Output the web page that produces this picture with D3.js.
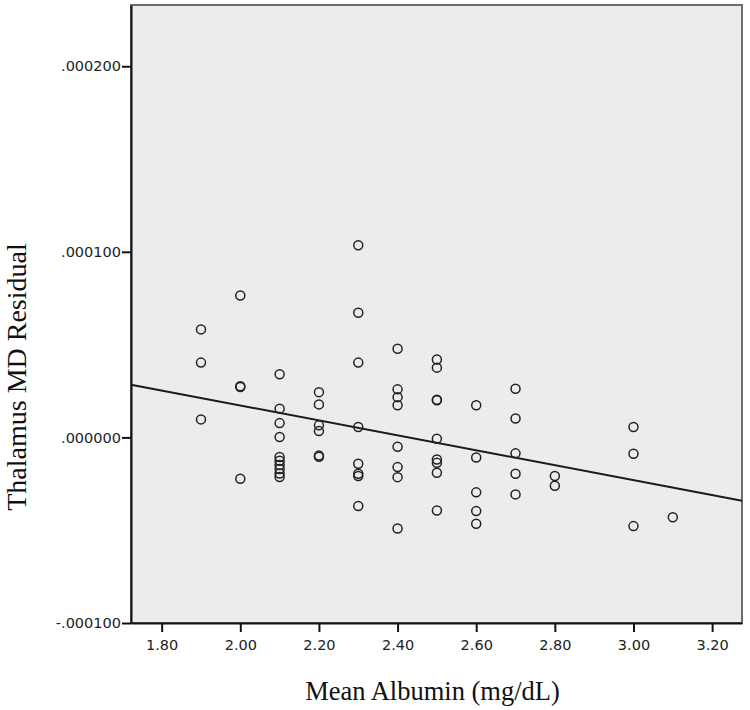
<!DOCTYPE html>
<html>
<head>
<meta charset="utf-8">
<script src="https://cdn.jsdelivr.net/npm/d3@7"></script>
<style>
  body { margin: 0; background: #fff; }
</style>
</head>
<body>
<div id="chart"></div>
<script>
// values; residuals in units of 1e-6
const albumin = [
  1.9, 1.9, 1.9,
  2.0, 2.0, 2.0, 2.0,
  2.1, 2.1, 2.1, 2.1, 2.1, 2.1, 2.1, 2.1, 2.1, 2.1,
  2.2, 2.2, 2.2, 2.2, 2.2, 2.2,
  2.3, 2.3, 2.3, 2.3, 2.3, 2.3, 2.3, 2.3,
  2.4, 2.4, 2.4, 2.4, 2.4, 2.4, 2.4, 2.4,
  2.5, 2.5, 2.5, 2.5, 2.5, 2.5, 2.5, 2.5, 2.5,
  2.6, 2.6, 2.6, 2.6, 2.6,
  2.7, 2.7, 2.7, 2.7, 2.7,
  2.8, 2.8,
  3.0, 3.0, 3.0,
  3.1
];
const residual = [
  58.2, 40.3, 9.7,
  76.5, 27.6, 27.2, -22.3,
  34.0, 15.5, 7.7, 0.2, -10.6, -12.6, -14.8, -17.0, -19.4, -21.3,
  24.4, 17.8, 6.5, 3.4, -9.8, -10.4,
  103.5, 67.2, 40.3, 5.6, -14.2, -19.6, -20.8, -37.0,
  47.8, 25.9, 21.7, 17.3, -5.0, -16.0, -21.4, -49.1,
  42.0, 37.6, 20.3, 20.0, -0.7, -11.9, -13.7, -19.0, -39.4,
  17.3, -10.8, -29.6, -39.7, -46.5,
  26.2, 10.2, -8.6, -19.6, -30.7,
  -20.8, -26.0,
  5.6, -8.8, -47.8,
  -43.0
];
const xTicks = [1.8, 2.0, 2.2, 2.4, 2.6, 2.8, 3.0, 3.2];
const yTicks = [-100, 0, 100, 200];
const fitCoef = [97.6, -40.2]; // intercept, slope of the drawn fit line

const width = 750, height = 710;
const margin = { left: 131, right: 8, top: 5, bottom: 87 };

const svg = d3.select("#chart").append("svg")
  .attr("width", width)
  .attr("height", height);

const x = d3.scaleLinear()
  .domain([1.722, 3.276])
  .range([margin.left, width - margin.right]);

const y = d3.scaleLinear()
  .domain([-100, 233])
  .range([height - margin.bottom, margin.top]);

const fmtY = d => (d < 0 ? "-" : "") + "." + String(Math.abs(d)).padStart(6, "0");

// plot background
svg.append("rect")
  .attr("x", x.range()[0])
  .attr("y", y.range()[1])
  .attr("width", x.range()[1] - x.range()[0])
  .attr("height", y.range()[0] - y.range()[1])
  .attr("fill", "#ececec")
  .attr("stroke", "#6e6e6e")
  .attr("stroke-width", 2);

// axes
const xAxis = svg.append("g")
  .attr("transform", `translate(0,${y.range()[0]})`)
  .call(d3.axisBottom(x).tickValues(xTicks).tickFormat(d3.format(".2f")).tickSize(9).tickSizeOuter(0));

const yAxis = svg.append("g")
  .attr("transform", `translate(${x.range()[0]},0)`)
  .call(d3.axisLeft(y).tickValues(yTicks).tickFormat(fmtY).tickSize(9).tickSizeOuter(0));

[xAxis, yAxis].forEach(g => {
  g.select(".domain").attr("stroke", "#111").attr("stroke-width", 2);
  g.selectAll(".tick line").attr("stroke", "#111").attr("stroke-width", 2);
  g.selectAll(".tick text")
    .style("font-family", "'DejaVu Sans', sans-serif")
    .style("font-size", "14.5px")
    .attr("fill", "#222");
});
xAxis.selectAll(".tick text").attr("dy", "1.05em");
yAxis.selectAll(".tick text").attr("x", -10);

// fit line
const line = d3.line().x(d => x(d)).y(d => y(fitCoef[0] + fitCoef[1] * d));
svg.append("path")
  .datum(x.domain())
  .attr("d", line)
  .attr("fill", "none")
  .attr("stroke", "#1a1a1a")
  .attr("stroke-width", 2);

// points
svg.append("g")
  .selectAll("circle")
  .data(albumin.map((a, i) => ({ a: a, r: residual[i] })))
  .join("circle")
  .attr("cx", d => x(d.a))
  .attr("cy", d => y(d.r))
  .attr("r", 4.5)
  .attr("fill", "none")
  .attr("stroke", "#222")
  .attr("stroke-width", 1.5);

// axis titles
svg.append("text")
  .text("Mean Albumin (mg/dL)")
  .attr("x", (x.range()[0] + x.range()[1]) / 2 - 4)
  .attr("y", 700)
  .attr("text-anchor", "middle")
  .style("font-family", "'Liberation Serif', serif")
  .style("font-size", "26.5px")
  .attr("fill", "#111");

svg.append("text")
  .text("Thalamus MD Residual")
  .attr("transform", "translate(26,377) rotate(-90)")
  .attr("text-anchor", "middle")
  .style("font-family", "'Liberation Serif', serif")
  .style("font-size", "28px")
  .attr("fill", "#111");
</script>
</body>
</html>
